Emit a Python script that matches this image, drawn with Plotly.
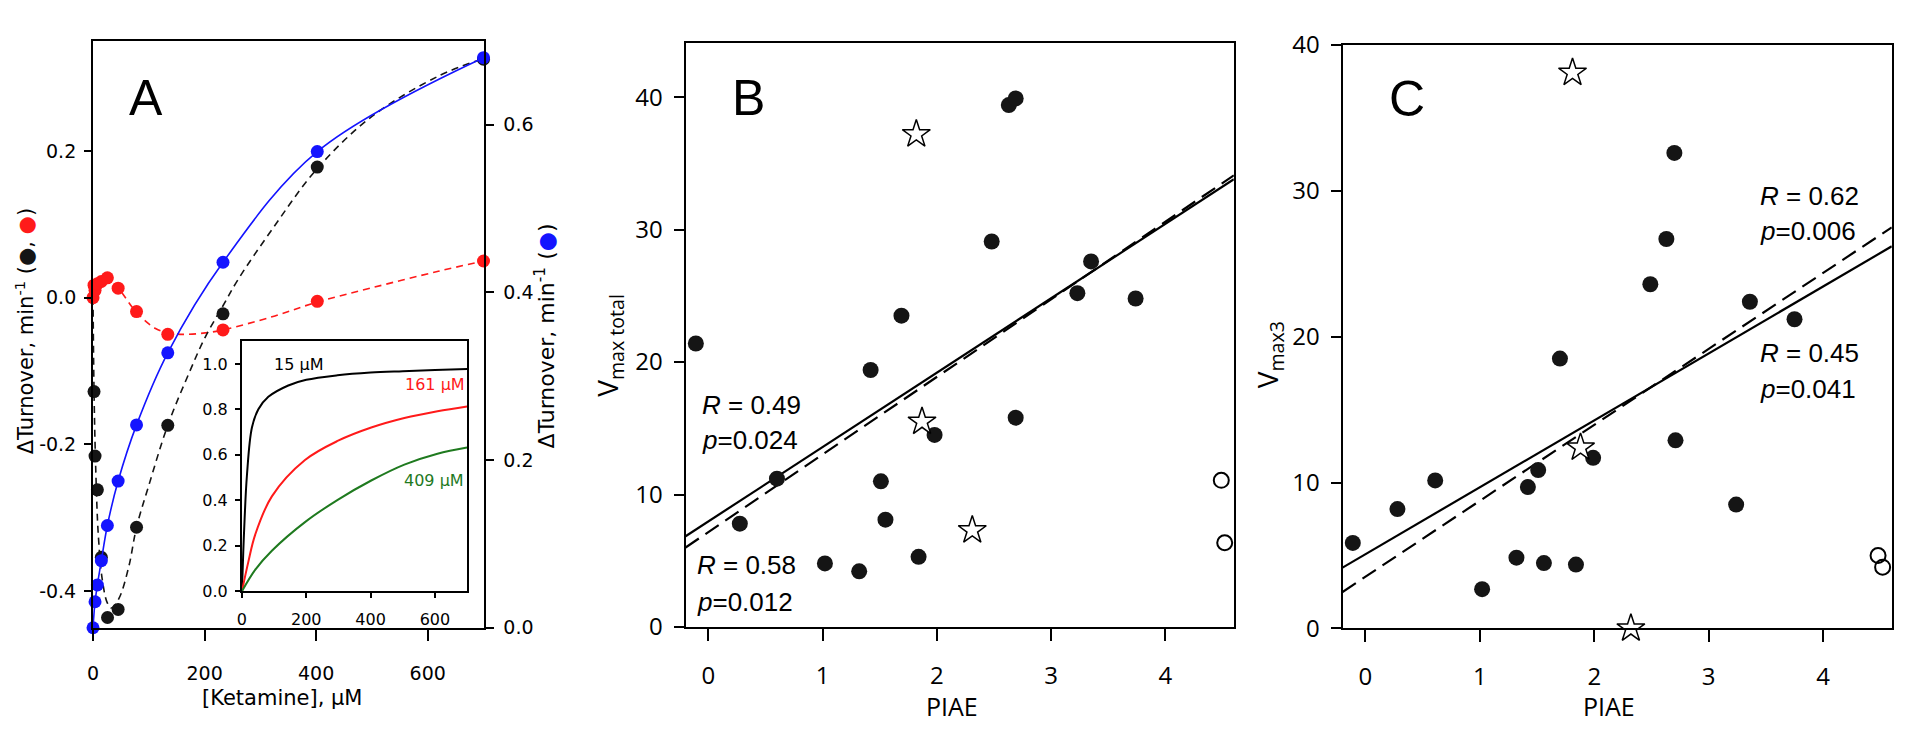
import plotly.graph_objects as go

W, H = 1920, 738

# ---------------- Panel A data ----------------
ket_blue = [0, 3.6, 7.8, 14.9, 25.7, 45, 78, 134, 233, 402, 700]
turn_blue = [0.0, 0.031, 0.051, 0.080, 0.122, 0.175, 0.242, 0.328, 0.436, 0.568, 0.680]

ket_black = [1.8, 3.6, 7.8, 14.9, 26, 45, 78, 134, 233, 402, 700]
turn_black = [-0.128, -0.216, -0.262, -0.354, -0.436, -0.425, -0.313, -0.174, -0.022, 0.178, 0.325]

ket_red = [0, 1.8, 3.6, 7.8, 14.9, 25.7, 45, 78, 134, 233, 402, 700]
turn_red = [0.0, 0.017, 0.010, 0.019, 0.022, 0.027, 0.013, -0.019, -0.050, -0.044, -0.005, 0.050]

black_fit_x = [0, 1.8, 4.8, 9.5, 16.7, 25.6, 33, 46.5, 64, 78, 100, 134, 172, 201, 233, 261, 321, 402, 500, 619, 700]
black_fit_y = [0.0, -0.128, -0.232, -0.324, -0.385, -0.416, -0.423, -0.41, -0.367, -0.313, -0.256, -0.174,
               -0.103, -0.054, -0.011, 0.026, 0.093, 0.176, 0.247, 0.302, 0.326]

red_fit_x = [0, 2, 8, 15, 25, 45, 78, 112, 134, 166, 201, 233, 321, 402, 500, 619, 700]
red_fit_y = [0.0, 0.012, 0.020, 0.025, 0.027, 0.013, -0.020, -0.042, -0.048, -0.050, -0.048, -0.044,
             -0.026, -0.006, 0.0135, 0.036, 0.050]

# inset curves
ins15_x = [0, 4, 8, 15.5, 31, 51, 82, 144, 200, 297, 400, 500, 600, 700]
ins15_y = [0, 0.17, 0.31, 0.51, 0.72, 0.80, 0.855, 0.905, 0.93, 0.95, 0.962, 0.968, 0.973, 0.977]
ins161_x = [0, 20, 41, 93, 196, 299, 402, 505, 608, 700]
ins161_y = [0, 0.13, 0.248, 0.417, 0.577, 0.662, 0.72, 0.762, 0.792, 0.813]
ins409_x = [0, 41, 93, 196, 299, 402, 505, 608, 700]
ins409_y = [0, 0.094, 0.178, 0.304, 0.403, 0.487, 0.557, 0.605, 0.632]

a_x_ticks = [0, 200, 400, 600]
a_yl_ticks = [-0.4, -0.2, 0.0, 0.2]
a_yl_text = ["-0.4", "-0.2", "0.0", "0.2"]
a_yr_ticks = [0.0, 0.2, 0.4, 0.6]
a_yr_text = ["0.0", "0.2", "0.4", "0.6"]
ins_x_ticks = [0, 200, 400, 600]
ins_y_ticks = [0.0, 0.2, 0.4, 0.6, 0.8, 1.0]
ins_y_text = ["0.0", "0.2", "0.4", "0.6", "0.8", "1.0"]

# ---------------- Panel B data ----------------
b_piae = [-0.11, 0.275, 0.60, 1.02, 1.32, 1.42, 1.51, 1.55, 1.69, 1.84, 1.98, 2.48, 2.63, 2.69, 2.69, 3.23, 3.35, 3.74]
b_vmax = [21.4, 7.8, 11.2, 4.8, 4.2, 19.4, 11.0, 8.1, 23.5, 5.3, 14.5, 29.1, 39.4, 39.9, 15.8, 25.2, 27.6, 24.8]
b_open_piae = [4.49, 4.52]
b_open_vmax = [11.07, 6.36]
b_star_piae = [1.82, 1.87, 2.31]
b_star_vmax = [37.2, 15.5, 7.3]
b_fit_x = [-0.2, 4.6]
b_fit_solid = [6.85, 33.8]
b_fit_dash = [6.0, 34.1]

# ---------------- Panel C data ----------------
c_piae = [-0.11, 0.28, 0.61, 1.02, 1.32, 1.42, 1.51, 1.56, 1.70, 1.84, 1.99, 2.49, 2.63, 2.70, 2.71, 3.24, 3.36, 3.75]
c_vmax = [5.86, 8.18, 10.15, 2.69, 4.85, 9.69, 10.86, 4.48, 18.5, 4.38, 11.7, 23.6, 26.7, 32.6, 12.9, 8.49, 22.4, 21.2]
c_open_piae = [4.48, 4.52]
c_open_vmax = [5.0, 4.2]
c_star_piae = [1.81, 1.88, 2.32]
c_star_vmax = [38.1, 12.4, 0.0]
c_fit_x = [-0.2, 4.6]
c_fit_solid = [4.17, 26.2]
c_fit_dash = [2.5, 27.5]

bc_x_ticks = [0, 1, 2, 3, 4]
bc_y_ticks = [0, 10, 20, 30, 40]

BLUE = "#1414ff"
RED = "#ff1a1a"
BLACK = "#151515"
GREEN = "#1f7a1f"

FA = "DejaVu Sans"
FB = "Open Sans"
FL = "Liberation Sans"


def px(x):
    return x / W


def py(y):
    return 1 - y / H


fig = go.Figure()

# ---- Panel A traces ----
fig.add_trace(go.Scatter(x=red_fit_x, y=red_fit_y, mode="lines", line=dict(color=RED, width=1.6, dash="7px,5px", shape="spline"),
                         xaxis="x", yaxis="y", hoverinfo="skip"))
fig.add_trace(go.Scatter(x=black_fit_x, y=black_fit_y, mode="lines", line=dict(color=BLACK, width=1.6, dash="7px,5px", shape="spline"),
                         xaxis="x", yaxis="y", hoverinfo="skip"))
fig.add_trace(go.Scatter(x=ket_blue, y=turn_blue, mode="lines", line=dict(color=BLUE, width=1.6, shape="spline"),
                         xaxis="x", yaxis="y2", hoverinfo="skip"))
fig.add_trace(go.Scatter(x=ket_red, y=turn_red, mode="markers", marker=dict(color=RED, size=13),
                         xaxis="x", yaxis="y", cliponaxis=False))
fig.add_trace(go.Scatter(x=ket_black, y=turn_black, mode="markers", marker=dict(color=BLACK, size=13),
                         xaxis="x", yaxis="y", cliponaxis=False))
fig.add_trace(go.Scatter(x=ket_blue, y=turn_blue, mode="markers", marker=dict(color=BLUE, size=13),
                         xaxis="x", yaxis="y2", cliponaxis=False))

# ---- Inset traces ----
fig.add_trace(go.Scatter(x=ins15_x, y=ins15_y, mode="lines", line=dict(color="black", width=2, shape="spline"),
                         xaxis="x3", yaxis="y3"))
fig.add_trace(go.Scatter(x=ins161_x, y=ins161_y, mode="lines", line=dict(color=RED, width=2, shape="spline"),
                         xaxis="x3", yaxis="y3"))
fig.add_trace(go.Scatter(x=ins409_x, y=ins409_y, mode="lines", line=dict(color=GREEN, width=2, shape="spline"),
                         xaxis="x3", yaxis="y3"))

# ---- Panel B traces ----
fig.add_trace(go.Scatter(x=b_fit_x, y=b_fit_solid, mode="lines", line=dict(color="black", width=2.2),
                         xaxis="x4", yaxis="y4"))
fig.add_trace(go.Scatter(x=b_fit_x, y=b_fit_dash, mode="lines", line=dict(color="black", width=2.2, dash="16px,8px"),
                         xaxis="x4", yaxis="y4"))
fig.add_trace(go.Scatter(x=b_piae, y=b_vmax, mode="markers", marker=dict(color=BLACK, size=16),
                         xaxis="x4", yaxis="y4", cliponaxis=False))
fig.add_trace(go.Scatter(x=b_open_piae, y=b_open_vmax, mode="markers",
                         marker=dict(symbol="circle-open", color="black", size=15, line=dict(width=2)),
                         xaxis="x4", yaxis="y4", cliponaxis=False))
fig.add_trace(go.Scatter(x=b_star_piae, y=b_star_vmax, mode="markers",
                         marker=dict(symbol="star", color="white", size=21, line=dict(width=1.5, color="black")),
                         xaxis="x4", yaxis="y4", cliponaxis=False))

# ---- Panel C traces ----
fig.add_trace(go.Scatter(x=c_fit_x, y=c_fit_solid, mode="lines", line=dict(color="black", width=2.2),
                         xaxis="x5", yaxis="y5"))
fig.add_trace(go.Scatter(x=c_fit_x, y=c_fit_dash, mode="lines", line=dict(color="black", width=2.2, dash="16px,8px"),
                         xaxis="x5", yaxis="y5"))
fig.add_trace(go.Scatter(x=c_piae, y=c_vmax, mode="markers", marker=dict(color=BLACK, size=16),
                         xaxis="x5", yaxis="y5", cliponaxis=False))
fig.add_trace(go.Scatter(x=c_open_piae, y=c_open_vmax, mode="markers",
                         marker=dict(symbol="circle-open", color="black", size=15, line=dict(width=2)),
                         xaxis="x5", yaxis="y5", cliponaxis=False))
fig.add_trace(go.Scatter(x=c_star_piae, y=c_star_vmax, mode="markers",
                         marker=dict(symbol="star", color="white", size=21, line=dict(width=1.5, color="black")),
                         xaxis="x5", yaxis="y5", cliponaxis=False))

common = dict(showgrid=False, zeroline=False, showline=True, linecolor="black", linewidth=2,
              ticks="outside", tickcolor="black", tickwidth=2, fixedrange=True)

# Domains (pixel -> paper)
A_x = [px(87.3), px(479)]
A_y = [py(638.3), py(24)]
I_x = [px(236.7), px(462.5)]
I_y = [py(600), py(338.3)]
B_x = [px(681.7), px(1231.7)]
B_y = [py(637.5), py(26)]
C_x = [px(1340.7), px(1891.7)]
C_y = [py(639), py(28.3)]

fig.update_layout(
    width=W, height=H, margin=dict(l=0, r=0, t=0, b=0),
    paper_bgcolor="white", plot_bgcolor="white", showlegend=False,
    xaxis=dict(**common, domain=A_x, range=[0, 700], anchor="y", mirror=True, ticklen=11,
               tickvals=a_x_ticks, ticktext=[str(v) for v in a_x_ticks],
               tickfont=dict(family=FA, size=19, color="black"), ticklabelstandoff=16),
    yaxis=dict(**common, domain=A_y, range=[-0.45, 0.35], anchor="x", ticklen=7,
               tickvals=a_yl_ticks, ticktext=a_yl_text,
               tickfont=dict(family=FA, size=19, color="black"), ticklabelstandoff=4),
    yaxis2=dict(**common, overlaying="y", side="right", anchor="x", range=[0, 0.70], ticklen=8,
                tickvals=a_yr_ticks, ticktext=a_yr_text,
                tickfont=dict(family=FA, size=19, color="black"), ticklabelstandoff=6),
    xaxis3=dict(**common, domain=I_x, range=[0, 700], anchor="y3", mirror=True, ticklen=5,
                tickvals=ins_x_ticks, ticktext=[str(v) for v in ins_x_ticks],
                tickfont=dict(family=FA, size=16, color="black"), ticklabelstandoff=8),
    yaxis3=dict(**common, domain=I_y, range=[0, 1.1], anchor="x3", mirror=True, ticklen=5,
                tickvals=ins_y_ticks, ticktext=ins_y_text,
                tickfont=dict(family=FA, size=16, color="black"), ticklabelstandoff=4),
    xaxis4=dict(**common, domain=B_x, range=[-0.2, 4.6], anchor="y4", mirror=True, ticklen=12,
                tickvals=bc_x_ticks, ticktext=[str(v) for v in bc_x_ticks],
                tickfont=dict(family=FB, size=24, color="black"), ticklabelstandoff=14),
    yaxis4=dict(**common, domain=B_y, range=[0, 44.1], anchor="x4", mirror=True, ticklen=10,
                tickvals=bc_y_ticks, ticktext=[str(v) for v in bc_y_ticks],
                tickfont=dict(family=FB, size=24, color="black"), ticklabelstandoff=6),
    xaxis5=dict(**common, domain=C_x, range=[-0.2, 4.6], anchor="y5", mirror=True, ticklen=12,
                tickvals=bc_x_ticks, ticktext=[str(v) for v in bc_x_ticks],
                tickfont=dict(family=FB, size=24, color="black"), ticklabelstandoff=14),
    yaxis5=dict(**common, domain=C_y, range=[0, 40], anchor="x5", mirror=True, ticklen=10,
                tickvals=bc_y_ticks, ticktext=[str(v) for v in bc_y_ticks],
                tickfont=dict(family=FB, size=24, color="black"), ticklabelstandoff=6),
)

ann = []


def add_text(text, x, y, size, family, color="black", angle=0, xanchor="center", yanchor="middle"):
    ann.append(dict(text=text, x=px(x), y=py(y), xref="paper", yref="paper", showarrow=False,
                    font=dict(size=size, family=family, color=color), textangle=angle,
                    xanchor=xanchor, yanchor=yanchor))


# panel letters
add_text("A", 140, 84, 50, FL)
add_text("B", 745, 84, 50, FL)
add_text("C", 1405, 85, 50, FL)

# axis titles panel A
add_text("[Ketamine], μM", 277, 712, 21, FA)
add_text('ΔTurnover, min<sup>-1</sup> (<span style="color:#151515">●</span>, <span style="color:#ff1a1a">●</span>)',
         19, 328, 21, FA, angle=-90)
add_text('ΔTurnover, min<sup>-1</sup> (<span style="color:#1414ff">●</span>)', 541, 333, 22, FA, angle=-90)

# inset labels
add_text("15 μM", 293, 363, 16, FA)
add_text("161 μM", 430, 384, 16, FA, color=RED)
add_text("409 μM", 429, 484, 16, FA, color=GREEN)

# panel B/C titles
add_text("PIAE", 949, 720, 25, FB)
add_text("PIAE", 1608, 720, 25, FB)
add_text("V<sub>max total</sub>", 605, 343, 28, FB, angle=-90)
add_text("V<sub>max3</sub>", 1267, 353, 28, FB, angle=-90)

# statistics
add_text("<i>R</i> = 0.49", 696, 405, 26, FL, xanchor="left")
add_text("<i>p</i>=0.024", 696, 442, 26, FL, xanchor="left")
add_text("<i>R</i> = 0.58", 691, 573, 26, FL, xanchor="left")
add_text("<i>p</i>=0.012", 691, 611, 26, FL, xanchor="left")
add_text("<i>R</i> = 0.62", 1757, 186, 26, FL, xanchor="left")
add_text("<i>p</i>=0.006", 1757, 223, 26, FL, xanchor="left")
add_text("<i>R</i> = 0.45", 1757, 351, 26, FL, xanchor="left")
add_text("<i>p</i>=0.041", 1757, 388, 26, FL, xanchor="left")

fig.update_layout(annotations=ann)

fig.write_html("out.html", config={"displayModeBar": False})
